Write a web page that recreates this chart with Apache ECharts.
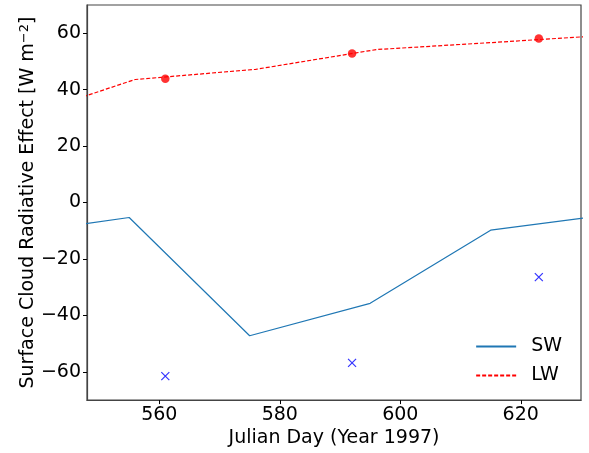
<!DOCTYPE html>
<html>
<head>
<meta charset="utf-8">
<script src="https://cdn.jsdelivr.net/npm/echarts@6/dist/echarts.min.js"></script>
<style>
  html, body { margin: 0; padding: 0; background: #fff; }
  #chart { width: 589px; height: 453px; }
</style>
</head>
<body>
<div id="chart"></div>
<script>
// line data (days beyond the axis range are clipped)
const swDays = [535, 555, 575, 595, 615, 635];
const swValues = [-11.3, -5.3, -47.2, -35.7, -9.8, -4.2];
const lwDays = [536, 556, 576, 596, 616, 636];
const lwValues = [29.5, 43.6, 47.2, 54.2, 56.8, 59.5];

// observations
const obsDays = [561, 592, 623];
const obsLW = [43.9, 52.8, 58.1];
const obsSW = [-61.5, -56.8, -26.4];

const xTicks = [560, 580, 600, 620];
const yTicks = [-60, -40, -20, 0, 20, 40, 60];

const zip = (a, b) => a.map((v, i) => [v, b[i]]);
const font = 'DejaVu Sans';
const fs = 19;

const chart = echarts.init(document.getElementById('chart'));

chart.setOption({
  animation: false,
  grid: {
    left: 87, right: 8, top: 5, bottom: 51,
    show: true,
    borderColor: '#444',
    borderWidth: 1.2
  },
  legend: {
    data: ['SW', 'LW'],
    orient: 'vertical',
    right: 22,
    bottom: 63,
    itemWidth: 40,
    itemHeight: 10,
    itemGap: 10,
    itemStyle: { opacity: 0 },
    textStyle: { fontFamily: font, fontSize: fs, color: '#000', padding: [0, 0, 0, 10] }
  },
  xAxis: {
    type: 'value',
    min: 548,
    max: 630,
    name: 'Julian Day (Year 1997)',
    nameLocation: 'middle',
    nameGap: 27,
    nameTextStyle: { fontFamily: font, fontSize: fs, color: '#000' },
    axisLine: { onZero: false, lineStyle: { color: '#444', width: 1.2 } },
    axisTick: { customValues: xTicks, length: 4, lineStyle: { color: '#000' } },
    axisLabel: { customValues: xTicks, fontFamily: font, fontSize: fs, color: '#000', margin: 5 },
    splitLine: { show: false }
  },
  yAxis: {
    type: 'value',
    min: -70,
    max: 70,
    name: '{a|Surface Cloud Radiative Effect [W m}{s|−2}{a|]}',
    nameLocation: 'middle',
    nameGap: 48,
    nameMoveOverlap: false,
    nameTextStyle: {
      rich: {
        a: { fontFamily: font, fontSize: fs, color: '#000' },
        s: { fontFamily: font, fontSize: 13, color: '#000', verticalAlign: 'top', padding: [0, 0, 8, 0] }
      }
    },
    axisLine: { onZero: false, lineStyle: { color: '#444', width: 1.2 } },
    axisTick: { customValues: yTicks, length: 4, lineStyle: { color: '#000' } },
    axisLabel: {
      customValues: yTicks,
      fontFamily: font, fontSize: fs, color: '#000', margin: 6,
      formatter: v => (v < 0 ? '\u2212' + Math.abs(v) : String(v))
    },
    splitLine: { show: false }
  },
  series: [
    {
      name: 'SW',
      type: 'line',
      data: zip(swDays, swValues),
      symbol: 'none',
      color: '#1f77b4',
      lineStyle: { color: '#1f77b4', width: 1.2 }
    },
    {
      name: 'LW',
      type: 'line',
      data: zip(lwDays, lwValues),
      symbol: 'none',
      color: '#ff0000',
      lineStyle: { color: '#ff0000', width: 1.2, type: [4, 2] }
    },
    {
      name: 'LW obs',
      type: 'scatter',
      data: zip(obsDays, obsLW),
      symbol: 'circle',
      symbolSize: 8.5,
      itemStyle: { color: '#ff0000' }
    },
    {
      name: 'SW obs',
      type: 'scatter',
      data: zip(obsDays, obsSW),
      symbol: 'path://M0,0L10,10M10,0L0,10',
      symbolSize: 8,
      itemStyle: { color: 'none', borderColor: '#0000ff', borderWidth: 1.2 }
    }
  ]
});
</script>
</body>
</html>
